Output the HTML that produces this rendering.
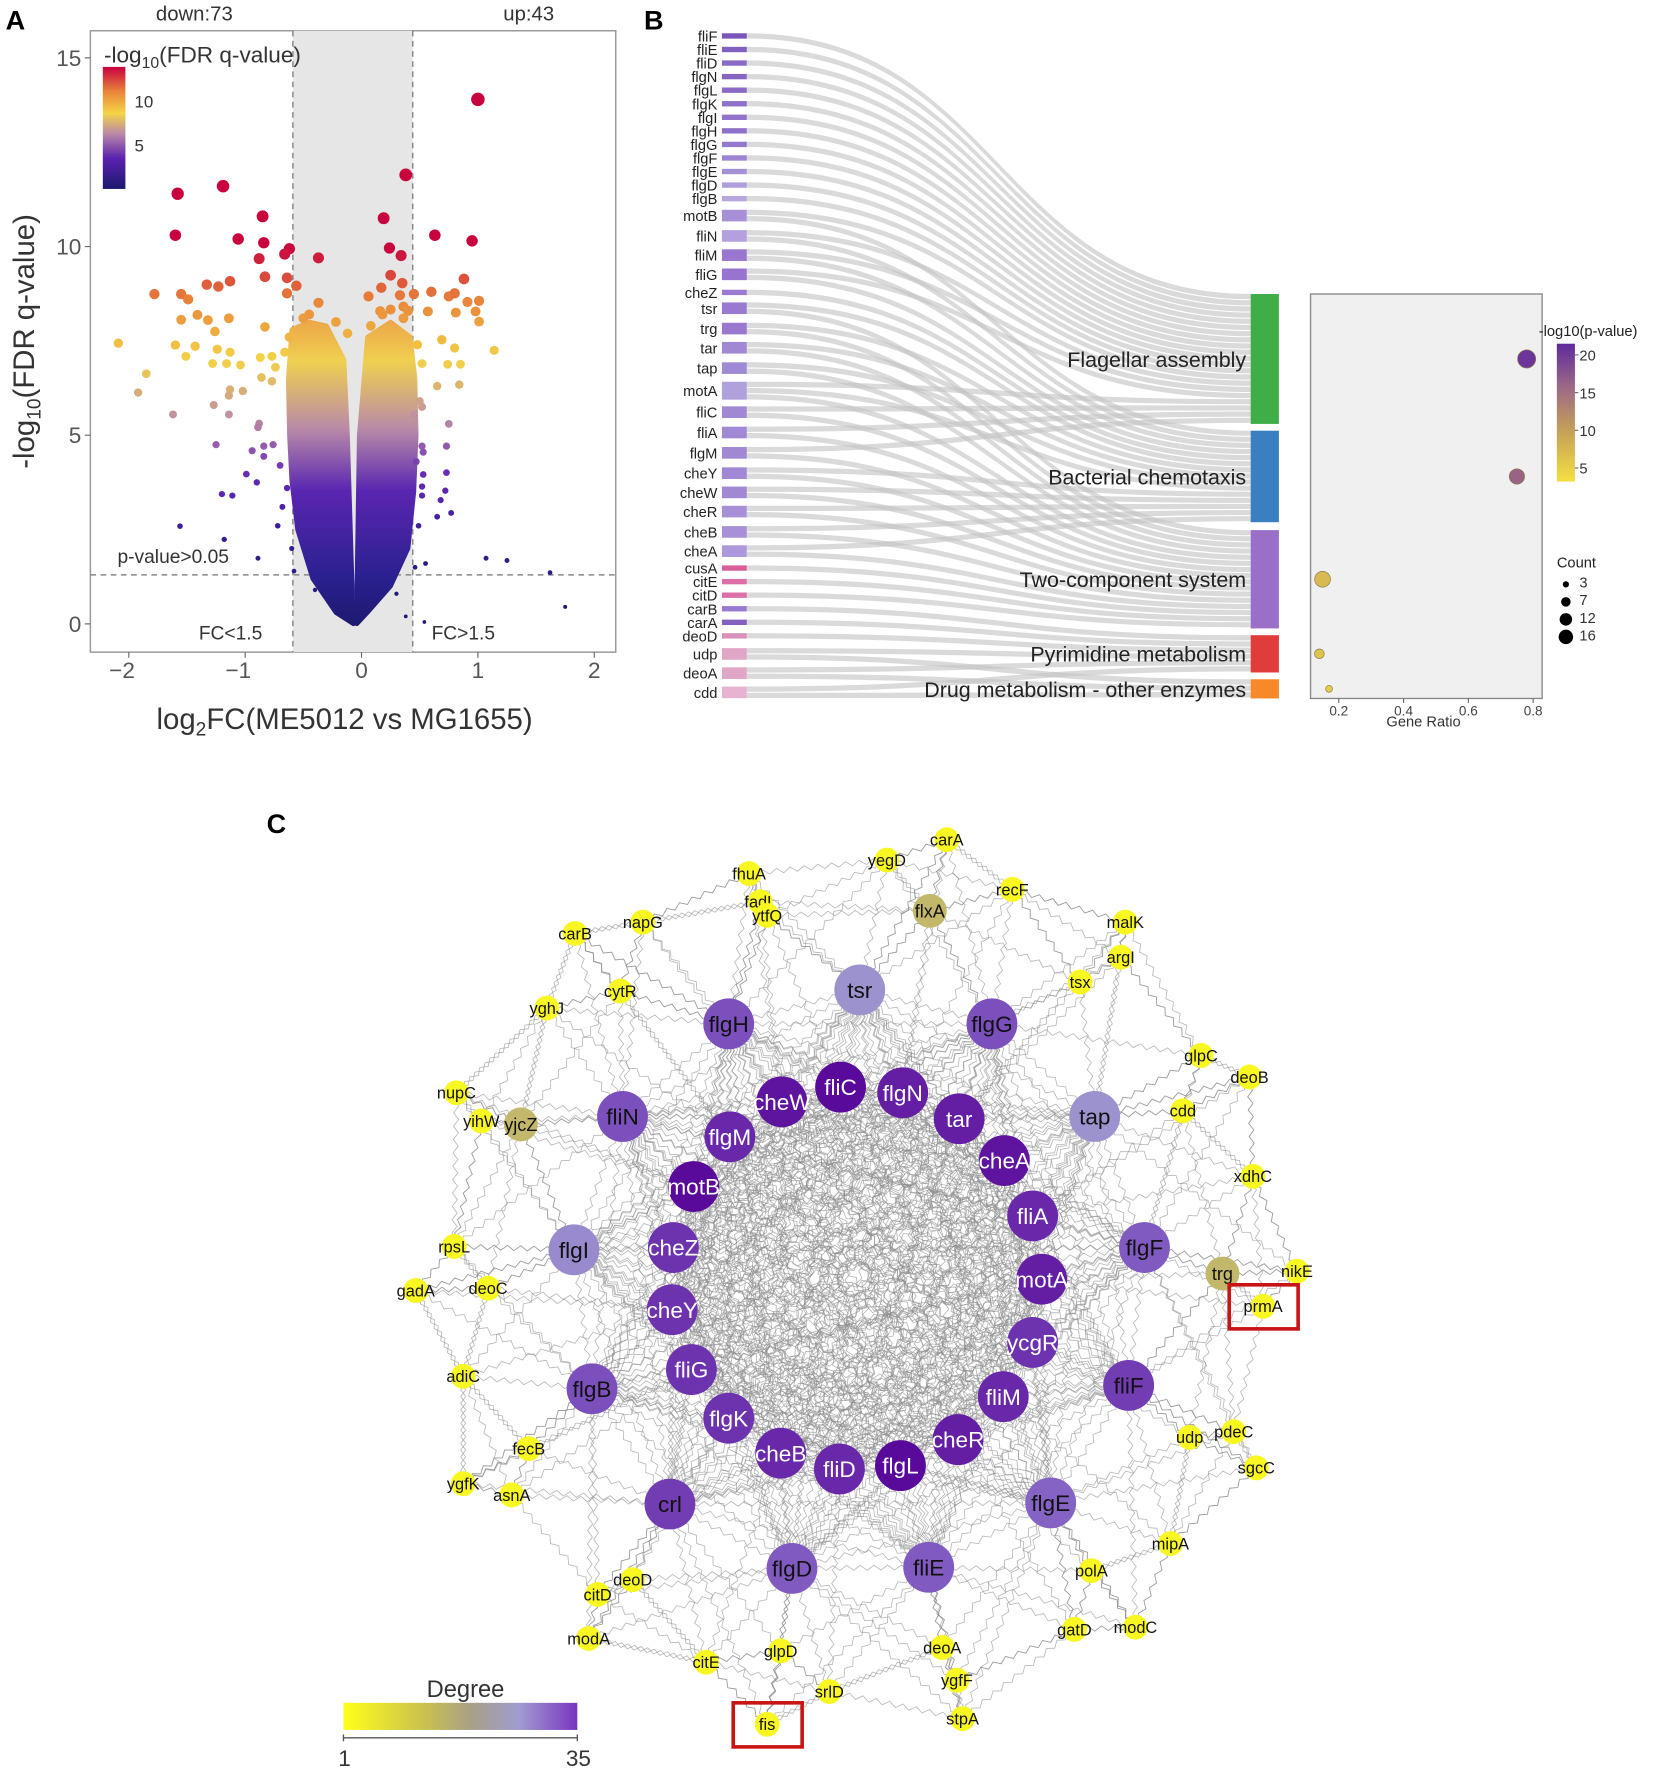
<!DOCTYPE html>
<html><head><meta charset="utf-8">
<style>
html,body{margin:0;padding:0;background:#fff;}
svg{display:block;font-family:"Liberation Sans",sans-serif;}
.nar{font-family:"Liberation Sans Narrow","Liberation Sans",sans-serif;}
</style></head>
<body>
<svg id="fig" width="1654" height="1772" viewBox="0 0 1464 1568" xmlns="http://www.w3.org/2000/svg">
<defs>
<linearGradient id="fdrbar" x1="0" y1="1" x2="0" y2="0">
<stop offset="0" stop-color="#1b1870"/><stop offset="0.25" stop-color="#5a22ae"/><stop offset="0.45" stop-color="#b888a8"/><stop offset="0.62" stop-color="#f4d446"/><stop offset="0.8" stop-color="#e8823a"/><stop offset="1" stop-color="#c8003e"/>
</linearGradient>
<linearGradient id="pbar" x1="0" y1="1" x2="0" y2="0">
<stop offset="0" stop-color="#f4e040"/><stop offset="0.4" stop-color="#c09a5c"/><stop offset="0.7" stop-color="#9a6688"/><stop offset="1" stop-color="#5e2a9c"/>
</linearGradient>
<linearGradient id="degbar" x1="0" y1="0" x2="1" y2="0">
<stop offset="0" stop-color="#ffff1a"/><stop offset="0.35" stop-color="#c8c050"/><stop offset="0.55" stop-color="#a8a088"/><stop offset="0.75" stop-color="#a09cd0"/><stop offset="1" stop-color="#7a34c0"/>
</linearGradient>
</defs>
<g id="pA"></g>
<g id="pB"></g>
<g id="pC"></g>
</svg>
<script>
// ---------- Panel A data ----------
const volX = [1.0,0.38,-1.19,-1.58,-1.6,-0.85,0.19,0.63,0.95,-1.06,-0.84,0.24,0.34,-0.62,-0.66,-0.88,-0.37,
-0.83,-0.64,-0.56,-0.64,-1.13,-1.33,-1.23,-1.78,-1.55,-1.49,-0.37,0.06,0.17,0.25,0.35,0.33,0.45,0.36,0.6,0.88,0.75,0.8,0.91,1.01,0.98,1.01,0.57,0.81,0.16,0.25,-1.41,-1.55,-1.32,-1.14,-1.26,-0.83,
-2.09,-1.6,-1.43,-1.24,-1.13,-1.51,-1.28,-1.16,-1.04,-1.85,-1.92,-1.13,-1.02,-1.14,-0.87,-0.77,-0.74,-0.86,-0.77,-1.27,-1.62,-1.14,-0.88,-0.89,0.69,0.8,1.14,0.52,0.74,0.85,0.84,0.65,0.52,0.45,0.75,
-1.25,-0.94,-0.84,-0.76,-0.84,0.52,0.73,0.53,-0.99,-0.9,0.53,0.73,0.72,-1.2,-1.11,0.52,0.68,0.77,0.65,-1.56,-1.18,-0.89,1.07,1.25,1.62,1.75,0.38,0.54,0.55,
-0.62,-0.66,-0.7,-0.64,-0.68,-0.72,-0.6,-0.58,0.48,0.5,0.47,0.52,0.49,0.46,-0.5,-0.45,0.4,0.36,-0.22,-0.12,0.08,0.18,-0.4,0.3];
const volY = [13.9,11.9,11.6,11.4,10.3,10.8,10.75,10.3,10.15,10.2,10.1,9.96,9.76,9.94,9.8,9.68,9.7,
9.2,9.17,8.96,8.76,9.08,8.99,8.94,8.74,8.74,8.6,8.51,8.68,8.91,9.24,9.03,8.71,8.74,8.41,8.8,9.14,8.68,8.76,8.53,8.56,8.28,8.01,8.28,8.25,8.29,8.33,8.19,8.06,8.05,8.1,7.75,7.87,
7.44,7.39,7.36,7.28,7.2,7.09,6.9,6.9,6.86,6.63,6.13,6.21,6.17,6.05,7.06,7.09,6.8,6.53,6.43,5.8,5.55,5.55,5.31,5.21,7.53,7.31,7.25,6.9,6.88,6.88,6.34,6.3,5.75,5.53,5.3,
4.75,4.59,4.71,4.75,4.44,4.71,4.71,4.55,3.97,3.75,3.96,4.01,3.53,3.44,3.4,3.64,3.28,2.94,2.84,2.59,2.24,1.74,1.74,1.68,1.36,0.45,0.2,0.05,1.6,
7.6,7.2,4.2,3.6,3.1,2.6,2.0,1.4,7.4,5.9,4.3,3.4,2.6,1.5,8.1,8.2,8.3,8.1,8.0,7.7,7.9,8.2,0.9,0.8];
const coreLeftX = [-0.6,-0.63,-0.62,-0.6,-0.55,-0.42,-0.22,-0.07,-0.08,-0.1,-0.12,-0.15,-0.3,-0.45];
const coreLeftY = [7.8,6.5,5.0,3.8,2.5,1.2,0.3,0.0,1.0,3.0,5.0,7.0,7.9,8.0];
const coreRightX = [-0.04,0.05,0.25,0.4,0.45,0.47,0.46,0.42,0.25,0.05,-0.02,-0.03,-0.04];
const coreRightY = [0.0,0.3,1.0,2.0,3.5,5.0,6.5,7.6,8.0,7.6,5.0,3.0,1.0];
const aXTicks = [-2,-1,0,1,2];
const aXTickLabels = ["\u22122","\u22121","0","1","2"];
const aYTicks = [0,5,10,15];
const fcLow = -0.59, fcHigh = 0.44, pCut = 1.3;

// ---------- Panel B data ----------
const genes = ["fliF","fliE","fliD","flgN","flgL","flgK","flgI","flgH","flgG","flgF","flgE","flgD","flgB","motB","fliN","fliM","fliG","cheZ","tsr","trg","tar","tap","motA","fliC","fliA","flgM","cheY","cheW","cheR","cheB","cheA","cusA","citE","citD","carB","carA","deoD","udp","deoA","cdd"];
const geneY = [32,44,56,68,80,92,104,116,128,140,152,164,176,191,209,226,243,259,273,291,308,326,346,365,383,401,419,436,453,471,488,503,515,527,539,551,563,579,596,613];
const geneCol = ["#7b55b8","#8260bf","#8a6ac6","#8664c2","#8a6ac6","#8d70c8","#9074cc","#8d70c8","#9478cd","#9c84d2","#a490d6","#b09ddc","#b8a6e0","#a890d8","#b4a0de","#9a76d0","#9874ce","#9a7ad2","#9a7ad0","#9a78d0","#a088d4","#a08ad4","#b0a0dc","#a088d4","#a088d4","#a088d4","#a088d4","#a088d4","#a890d8","#a890d8","#ac98da","#d8609a","#dc70a6","#dc70a6","#9a7ad0","#8460c0","#d890b6","#e0a6c6","#e0a6c6","#e6b4d0"];
const pathways = ["Flagellar assembly","Bacterial chemotaxis","Two-component system","Pyrimidine metabolism","Drug metabolism - other enzymes"];
const pathTop = [260,381,469,562,601];
const pathBottom = [375,462,556,595,618];
const pathColor = ["#3fae49","#3a7fc1","#9a6fc8","#e03c3c","#f7892a"];
const memF = ["fliF","fliE","fliD","flgN","flgL","flgK","flgI","flgH","flgG","flgF","flgE","flgD","flgB","motB","fliN","fliM","fliG","motA","fliC","fliA","flgM"];
const memC = ["motB","fliN","fliM","fliG","cheZ","tsr","trg","tar","tap","motA","cheY","cheW","cheR","cheB","cheA"];
const memT = ["tsr","trg","tar","tap","motA","fliC","fliA","flgM","cheY","cheW","cheR","cheB","cheA","cusA","citE","citD"];
const memP = ["carB","carA","deoD","udp","deoA","cdd"];
const memD = ["udp","deoA","cdd"];
const geneRatio = [0.78,0.75,0.15,0.14,0.17];
const logP = [21,16,7,6,5];
const counts = [21,15,16,6,3];
const bXTicks = [0.2,0.4,0.6,0.8];
const pbTicks = [5,10,15,20];
const countLegend = [3,7,12,16];

// ---------- Panel C data ----------
const nodeNames = ["flgH","tsr","flgG","fliN","cheW","fliC","flgN","tar","tap","flgM","cheA","motB","fliA","flgI","cheZ","flgF","motA","cheY","ycgR","fliG","flgB","fliF","fliM","flgK","cheB","fliD","flgL","cheR","flgE","crl","flgD","fliE",
"flxA","yjcZ","trg",
"fhuA","fadL","yegD","carA","recF","napG","carB","ytfQ","malK","argI","tsx","cytR","yghJ","glpC","deoB","cdd","nupC","yihW","xdhC","rpsL","nikE","prmA","gadA","deoC","adiC","udp","pdeC","sgcC","fecB","ygfK","asnA","mipA","polA","deoD","citD","modA","gatD","modC","citE","glpD","deoA","ygfF","srlD","stpA","fis"];
const nodeX = [645,761,878,551,692,744,799,849,969,646,889,614,914,508,596,1013,922,595,914,612,524,999,888,645,691,743,797,848,930,593,701,822,
823,461,1082,
663,673,785,838,896,569,509,679,996,992,956,549,484,1063,1106,1047,404,426,1109,402,1148,1118,368,432,410,1053,1092,1112,468,410,453,1036,966,560,529,521,951,1005,625,691,834,847,734,852,679];
const nodeY = [906,876,906,988,975,962,967,990,988,1006,1027,1050,1076,1106,1104,1104,1132,1159,1188,1212,1229,1226,1236,1255,1286,1300,1297,1274,1330,1331,1388,1387,
806,995,1127,
773,798,761,743,787,816,826,810,816,847,869,877,892,934,953,983,967,992,1041,1103,1125,1156,1142,1140,1218,1272,1267,1299,1282,1313,1323,1366,1390,1398,1411,1450,1442,1440,1471,1461,1458,1487,1497,1521,1526];
const nodeDegree = [28,20,28,28,34,35,33,33,20,32,34,35,32,21,31,27,33,31,31,31,28,30,32,31,32,32,35,33,26,30,27,27,
11,11,11,
2,2,2,2,2,2,2,2,2,2,2,2,2,2,2,2,2,2,2,2,2,2,2,2,2,2,2,2,2,2,2,2,2,2,2,2,2,2,2,2,2,2,2,2,2];
const highlighted = ["prmA","fis"];

// ---------- helpers ----------
const NS="http://www.w3.org/2000/svg";
function mk(tag, attrs, parent){const e=document.createElementNS(NS,tag);for(const k in attrs)e.setAttribute(k,attrs[k]);parent.appendChild(e);return e;}
function txt(s, attrs, parent){const e=mk('text',attrs,parent);e.textContent=s;return e;}
function lerpC(stops, t){t=Math.max(0,Math.min(1,t));for(let i=1;i<stops.length;i++){if(t<=stops[i][0]){const a=stops[i-1],b=stops[i];const u=(t-a[0])/(b[0]-a[0]||1);const c1=a[1],c2=b[1];const r=Math.round(c1[0]+(c2[0]-c1[0])*u),g=Math.round(c1[1]+(c2[1]-c1[1])*u),bb=Math.round(c1[2]+(c2[2]-c1[2])*u);return `rgb(${r},${g},${bb})`;}}const l=stops[stops.length-1][1];return `rgb(${l[0]},${l[1]},${l[2]})`;}

// ---------- Panel A ----------
(function(){
const g=document.getElementById('pA');
const L=80,R=545,T=27,B=577;
const xs=v=>320+v*103, ys=v=>552-v*33.4;
const fdrStops=[[0,[27,24,112]],[0.25,[58,30,152]],[0.4,[106,44,182]],[0.55,[192,144,160]],[0.7,[244,212,70]],[0.86,[232,130,58]],[1,[200,0,62]]];
const col=v=>lerpC(fdrStops,v/10);
let el;
el=mk('rect',{x:L,y:T,width:R-L,height:B-T,fill:'#fff',stroke:'#999','stroke-width':1.3},g);


el=mk('rect',{x:xs(fcLow),y:T,width:xs(fcHigh)-xs(fcLow),height:B-T,fill:'#e6e6e6'},g);


[fcLow,fcHigh].forEach(v=>{const l=mk('line',{x1:xs(v),x2:xs(v),y1:T,y2:B,stroke:'#888','stroke-width':1.3,'stroke-dasharray':'5,4'},g);

});
el=mk('line',{x1:L,x2:R,y1:ys(pCut),y2:ys(pCut),stroke:'#888','stroke-width':1.3,'stroke-dasharray':'5,4'},g);


const defs=document.querySelector('defs');
const cg=mk('linearGradient',{id:'coreGrad',x1:0,y1:ys(0),x2:0,y2:ys(8.2),gradientUnits:'userSpaceOnUse'},defs);
[[0,'#1e1a70'],[0.15,'#2a2090'],[0.43,'#5a26b0'],[0.63,'#b88aa8'],[0.85,'#f0d050'],[1,'#eba048']].forEach(s=>mk('stop',{offset:s[0],'stop-color':s[1]},cg));
[[coreLeftX,coreLeftY],[coreRightX,coreRightY]].forEach((c,i)=>{
 const pts=c[0].map((x,j)=>xs(x)+','+ys(c[1][j])).join(' ');
 const p=mk('polygon',{points:pts,fill:'url(#coreGrad)',stroke:'url(#coreGrad)','stroke-width':4,'stroke-linejoin':'round'},g);
 
 
});
volX.forEach((x,i)=>{const y=volY[i];const r=Math.min(6,1.6+y*0.34);
 const c=mk('circle',{cx:xs(x),cy:ys(y),r:r,fill:col(y)},g);
 
 });
aYTicks.forEach(v=>{mk('line',{x1:L-5,x2:L,y1:ys(v),y2:ys(v),stroke:'#666'},g);
 const t=txt(String(v),{x:L-8,y:ys(v)+7,'text-anchor':'end','font-size':20,fill:'#555'},g);
 
 });
aXTicks.forEach((v,i)=>{mk('line',{x1:xs(v),x2:xs(v),y1:B,y2:B+5,stroke:'#666'},g);
 const t=txt(aXTickLabels[i],{x:xs(v)-(v<0?6:0),y:B+23,'text-anchor':'middle','font-size':20,fill:'#555'},g);
 
 });
el=txt('',{x:305,y:645,'text-anchor':'middle','font-size':26,fill:'#333'},g);
el.innerHTML='log<tspan font-size="17" dy="6">2</tspan><tspan dy="-6">FC(ME5012 vs MG1655)</tspan>';


el=txt('',{transform:'translate(30,302) rotate(-90)','text-anchor':'middle','font-size':26,fill:'#333'},g);
el.innerHTML='-log<tspan font-size="17" dy="6">10</tspan><tspan dy="-6">(FDR q-value)</tspan>';


el=txt('A',{x:5,y:26,'font-size':24,'font-weight':'bold'},g);


el=txt('down:73',{x:172,y:18,'text-anchor':'middle','font-size':18,fill:'#333'},g);


el=txt('up:43',{x:468,y:18,'text-anchor':'middle','font-size':18,fill:'#333'},g);


el=txt('p-value>0.05',{x:104,y:498,'font-size':17,fill:'#333'},g);


el=txt('FC<1.5',{x:176,y:566,'font-size':17,fill:'#333'},g);


el=txt('FC>1.5',{x:382,y:566,'font-size':17,fill:'#333'},g);


el=txt('',{x:92,y:55,'font-size':20,fill:'#333'},g);
el.innerHTML='-log<tspan font-size="14" dy="5">10</tspan><tspan dy="-5">(FDR q-value)</tspan>';


el=mk('rect',{x:91,y:59,width:20,height:108,fill:'url(#fdrbar)'},g);


[[10,95],[5,134]].forEach(a=>{const t=txt(String(a[0]),{x:119,y:a[1],'font-size':15,fill:'#333'},g);
 
 });
})();

// ---------- Panel B ----------
(function(){
const g=document.getElementById('pB');
const mems=[memF,memC,memT,memP,memD];
const unit=5.55;
let el;
el=txt('B',{x:570,y:26,'font-size':24,'font-weight':'bold'},g);


const geneSeg={};
const linksG=mk('g',{},g);


genes.forEach((gn,i)=>{
 const ps=[];mems.forEach((m,k)=>{if(m.includes(gn))ps.push(k);});
 const h=ps.length*unit;let y0=geneY[i]-h/2;
 ps.forEach(k=>{geneSeg[gn+'|'+k]=y0;y0+=unit;});
 const r=mk('rect',{x:639,y:geneY[i]-h/2,width:22,height:Math.max(h-0.8,3),fill:geneCol[i]},g);
 
 
 const t=txt(gn,{x:635,y:geneY[i]+4.5,'text-anchor':'end','font-size':13,fill:'#222'},g);
 
 
});
pathways.forEach((p,k)=>{
 const m=mems[k];const H=pathBottom[k]-pathTop[k];const w=H/m.length;
 m.forEach((gn,j)=>{
  const ya=geneSeg[gn+'|'+k],yb=pathTop[k]+j*w;
  const x0=661,x1=1107,cx=(x0+x1)/2;
  const ws=unit-0.9,we=w-0.9;
  const d=`M${x0},${ya} C${cx},${ya} ${cx},${yb} ${x1},${yb} L${x1},${yb+we} C${cx},${yb+we} ${cx},${ya+ws} ${x0},${ya+ws} Z`;
  const l=mk('path',{d:d,fill:'#c4c4c4','fill-opacity':0.62},linksG);
  
  
 });
 const r=mk('rect',{x:1107,y:pathTop[k],width:25,height:H,fill:pathColor[k]},g);
 
 
 const t=txt(p,{x:1103,y:(pathTop[k]+pathBottom[k])/2+7,'text-anchor':'end','font-size':19,fill:'#222',class:'nar'},g);
 
 
});
const L=1160,R=1365,T=260,B=618;
el=mk('rect',{x:L,y:T,width:R-L,height:B-T,fill:'#f0f0f0',stroke:'#888','stroke-width':1.2},g);


const xs=v=>1185+(v-0.2)*286.7;
const pStops=[[0,[244,224,64]],[0.35,[196,160,90]],[0.65,[160,104,128]],[1,[100,44,160]]];
const pcol=v=>lerpC(pStops,(v-3)/19);
bXTicks.forEach(v=>{mk('line',{x1:xs(v),x2:xs(v),y1:B,y2:B+4,stroke:'#666'},g);
 const t=txt(String(v),{x:xs(v),y:B+15,'text-anchor':'middle','font-size':12,fill:'#444'},g);
 
 });
el=txt('Gene Ratio',{x:1260,y:643,'text-anchor':'middle','font-size':13,fill:'#333'},g);


pathways.forEach((p,k)=>{
 const c=mk('circle',{cx:xs(geneRatio[k]),cy:(pathTop[k]+pathBottom[k])/2,r:Math.sqrt(counts[k])*1.75,fill:pcol(logP[k]),stroke:'#8a7a50','stroke-width':0.6},g);
 
 
});
el=txt('-log10(p-value)',{x:1362,y:297,'font-size':13,fill:'#222'},g);


el=mk('rect',{x:1378,y:304,width:16,height:122,fill:'url(#pbar)'},g);


pbTicks.forEach(v=>{const y=414-(v-5)*6.67;mk('line',{x1:1394,x2:1397,y1:y,y2:y,stroke:'#666'},g);
 const t=txt(String(v),{x:1398,y:y+5,'font-size':13,fill:'#333'},g);
 
 });
el=txt('Count',{x:1378,y:502,'font-size':13,fill:'#222'},g);


countLegend.forEach((v,i)=>{const y=516+i*15.5;
 const c=mk('circle',{cx:1386,cy:y+1,r:Math.sqrt(v)*1.6,fill:'#000'},g);
 
 
 const t=txt(String(v),{x:1398,y:y+4,'font-size':13,fill:'#333'},g);
 
 });
})();

// ---------- Panel C ----------
(function(){
const g=document.getElementById('pC');
let el;
el=txt('C',{x:236,y:737,'font-size':24,'font-weight':'bold'},g);


const dStops=[[0,[255,255,26]],[0.25,[200,190,95]],[0.45,[172,160,150]],[0.56,[156,146,206]],[0.75,[130,95,195]],[1,[90,10,155]]];
const dcol=d=>lerpC(dStops,(d-1)/34);
const eg=mk('g',{stroke:'#8a8a8a','stroke-width':0.75,'stroke-opacity':0.6,fill:'none'},g);


function wavy(x1,y1,x2,y2){const dx=x2-x1,dy=y2-y1,len=Math.hypot(dx,dy),n=Math.max(2,Math.round(len/6));const nx=-dy/len,ny=dx/len;let d=`M${x1.toFixed(1)},${y1.toFixed(1)}`;for(let i=1;i<=n;i++){const t=i/n;const a=(i%2?2.2:-2.2);d+=` L${(x1+dx*t+nx*a).toFixed(1)},${(y1+dy*t+ny*a).toFixed(1)}`;}return d;}
const N=nodeNames.length;
const big=[];for(let i=0;i<N;i++)if(nodeDegree[i]>=20)big.push(i);
for(let a=0;a<big.length;a++)for(let b=a+1;b<big.length;b++){
 const i=big[a],j=big[b];
 const e=mk('path',{d:wavy(nodeX[i],nodeY[i],nodeX[j],nodeY[j])},eg);
 
 
}
for(let i=0;i<N;i++){if(nodeDegree[i]>=20)continue;
 const others=[];for(let j=0;j<N;j++)if(j!==i)others.push([Math.hypot(nodeX[i]-nodeX[j],nodeY[i]-nodeY[j]),j]);
 others.sort((a,b)=>a[0]-b[0]);
 const k=nodeDegree[i]>5?8:4;
 for(let q=0;q<k;q++){const j=others[q][1];
  const e=mk('path',{d:wavy(nodeX[i],nodeY[i],nodeX[j],nodeY[j])},eg);
  
  }
 const hubs=big.map(j=>[Math.hypot(nodeX[i]-nodeX[j],nodeY[i]-nodeY[j]),j]).sort((a,b)=>a[0]-b[0]);
 for(let q=0;q<3;q++){const j=hubs[q][1];
  const e=mk('path',{d:wavy(nodeX[i],nodeY[i],nodeX[j],nodeY[j])},eg);
  
  }
}
const inner=["cheW","fliC","flgN","tar","cheA","fliA","motA","ycgR","fliM","cheR","flgL","fliD","cheB","flgK","fliG","cheY","cheZ","flgM","motB"];
nodeNames.forEach((nm,i)=>{
 const d=nodeDegree[i];const r=d>=20?22.5:(d>5?15:11);
 const c=mk('circle',{cx:nodeX[i],cy:nodeY[i],r:r,fill:dcol(d)},g);
 
 
 const white=inner.includes(nm);
 const fs=d>=20?20:(d>5?16:14.5);
 const t=txt(nm,{x:nodeX[i],y:nodeY[i]+fs*0.36,'text-anchor':'middle','font-size':fs,fill:white?'#fff':'#111'},g);
 
 
});
highlighted.forEach(nm=>{const i=nodeNames.indexOf(nm);
 const b=mk('rect',{x:nodeX[i]-30,y:nodeY[i]-19,width:61,height:39,fill:'none',stroke:'#c81414','stroke-width':3.2},g);
 
 });
el=txt('Degree',{x:412,y:1502,'text-anchor':'middle','font-size':21,fill:'#333'},g);


el=mk('rect',{x:304,y:1507,width:207,height:24,fill:'url(#degbar)'},g);


mk('line',{x1:304,x2:511,y1:1538,y2:1538,stroke:'#555','stroke-width':1.2},g);
mk('line',{x1:304,x2:304,y1:1535,y2:1541,stroke:'#555','stroke-width':1.2},g);
mk('line',{x1:511,x2:511,y1:1535,y2:1541,stroke:'#555','stroke-width':1.2},g);
el=txt('1',{x:305,y:1563,'text-anchor':'middle','font-size':20,fill:'#333'},g);


el=txt('35',{x:512,y:1563,'text-anchor':'middle','font-size':20,fill:'#333'},g);


})();
</script>
</body></html>
